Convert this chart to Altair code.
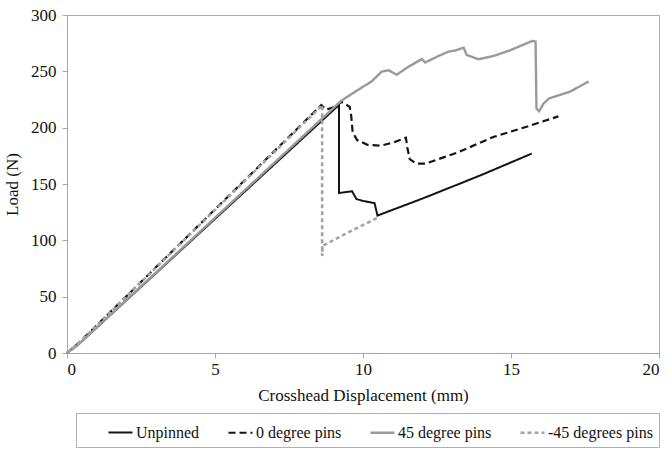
import altair as alt
import pandas as pd

# Series names, in legend order
series_names = ["Unpinned", "0 degree pins", "45 degree pins", "-45 degrees pins"]

# Crosshead displacement (mm) and load (N) for each specimen
unpinned_x = [0, 0.4, 9.1, 9.19, 9.19, 9.63, 9.78, 10.0, 10.39, 10.49, 12.0, 14.0, 15.7]
unpinned_y = [0, 8, 218, 220, 142, 143.5, 136.6, 135, 133, 122, 137, 158, 177]

pin0_x = [0, 0.4, 8.59, 8.75, 9.0, 9.27, 9.55, 9.6, 9.65, 9.8, 10.15, 10.6, 11.05, 11.45,
          11.5, 11.58, 11.8, 12.1, 13.2, 14.4, 15.5, 16.6]
pin0_y = [0, 9, 220, 216, 218, 223, 218.5, 211, 196, 189, 184.8, 184, 187, 191,
          182, 172, 168, 168, 178, 191.7, 200.6, 210]

pin45_x = [0, 0.4, 9.27, 9.8, 10.29, 10.63, 10.86, 11.14, 11.53, 11.99, 12.1, 12.5, 12.9,
           13.12, 13.4, 13.5, 13.9, 14.42, 15.0, 15.72, 15.83, 15.86, 15.95, 16.1, 16.29,
           17.0, 17.62]
pin45_y = [0, 8, 224, 233, 241, 249.7, 251, 247, 254, 261, 257.8, 263, 267.6,
           268.5, 271, 264.6, 260.7, 263.7, 269, 277, 276.5, 217, 214.6, 221.4, 226,
           232, 241]

pinm45_x = [0, 0.4, 8.55, 8.62, 8.62, 8.63, 9.5, 10.49]
pinm45_y = [0, 9, 218, 220, 86, 95, 107, 120]

line_colors = ["#141414", "#141414", "#9a9a9a", "#a4a4a4"]
line_dashes = [[1, 0], [7, 4], [1, 0], [4, 3]]
line_widths = [2.0, 2.6, 2.0, 1.3]

rows = []
for name, xs, ys in zip(series_names,
                        [unpinned_x, pin0_x, pin45_x, pinm45_x],
                        [unpinned_y, pin0_y, pin45_y, pinm45_y]):
    for i, (x, y) in enumerate(zip(xs, ys)):
        rows.append({"series": name, "disp": x, "load": y, "step": i})
df = pd.DataFrame(rows)

serif = "Liberation Serif"

legend = alt.Legend(
    title=None,
    orient="none",
    legendX=9,
    legendY=398,
    direction="horizontal",
    columns=4,
    symbolType="stroke",
    symbolSize=576,
    symbolOffset=25,
    labelOffset=2,
    columnPadding=2,
    padding=6,
    strokeColor="#b0b0b0",
    labelFont=serif,
    labelFontSize=16,
    labelColor="#111111",
    labelLimit=200,
)

chart = (
    alt.Chart(df)
    .mark_line(strokeJoin="miter")
    .encode(
        x=alt.X(
            "disp:Q",
            scale=alt.Scale(domain=[0, 20], nice=False),
            axis=alt.Axis(values=[0, 5, 10, 15, 20], title="Crosshead Displacement (mm)",
                          labelPadding=3, titlePadding=10),
        ),
        y=alt.Y(
            "load:Q",
            scale=alt.Scale(domain=[0, 300], nice=False),
            axis=alt.Axis(values=[0, 50, 100, 150, 200, 250, 300], title="Load (N)",
                          labelPadding=6, titlePadding=9),
        ),
        color=alt.Color("series:N",
                        scale=alt.Scale(domain=series_names, range=line_colors),
                        legend=legend),
        strokeDash=alt.StrokeDash("series:N",
                                  scale=alt.Scale(domain=series_names, range=line_dashes),
                                  legend=legend),
        strokeWidth=alt.StrokeWidth("series:N",
                                    scale=alt.Scale(domain=series_names, range=line_widths),
                                    legend=legend),
        order=alt.Order("step:Q"),
    )
    .properties(
        width=592,
        height=338,
        background="white",
        autosize=alt.AutoSizeParams(type="none"),
        padding={"left": 67, "top": 15, "right": 10, "bottom": 98},
    )
    .configure_view(stroke="#ababab", strokeWidth=1)
    .configure_axis(
        grid=False,
        domainColor="#a6a6a6",
        tickColor="#a6a6a6",
        tickSize=5,
        labelFont=serif,
        labelFontSize=17,
        labelColor="#111111",
        titleFont=serif,
        titleFontSize=17,
        titleFontWeight="normal",
        titleColor="#111111",
    )
)

chart.save("out.html", embed_options={"renderer": "svg", "actions": False})
